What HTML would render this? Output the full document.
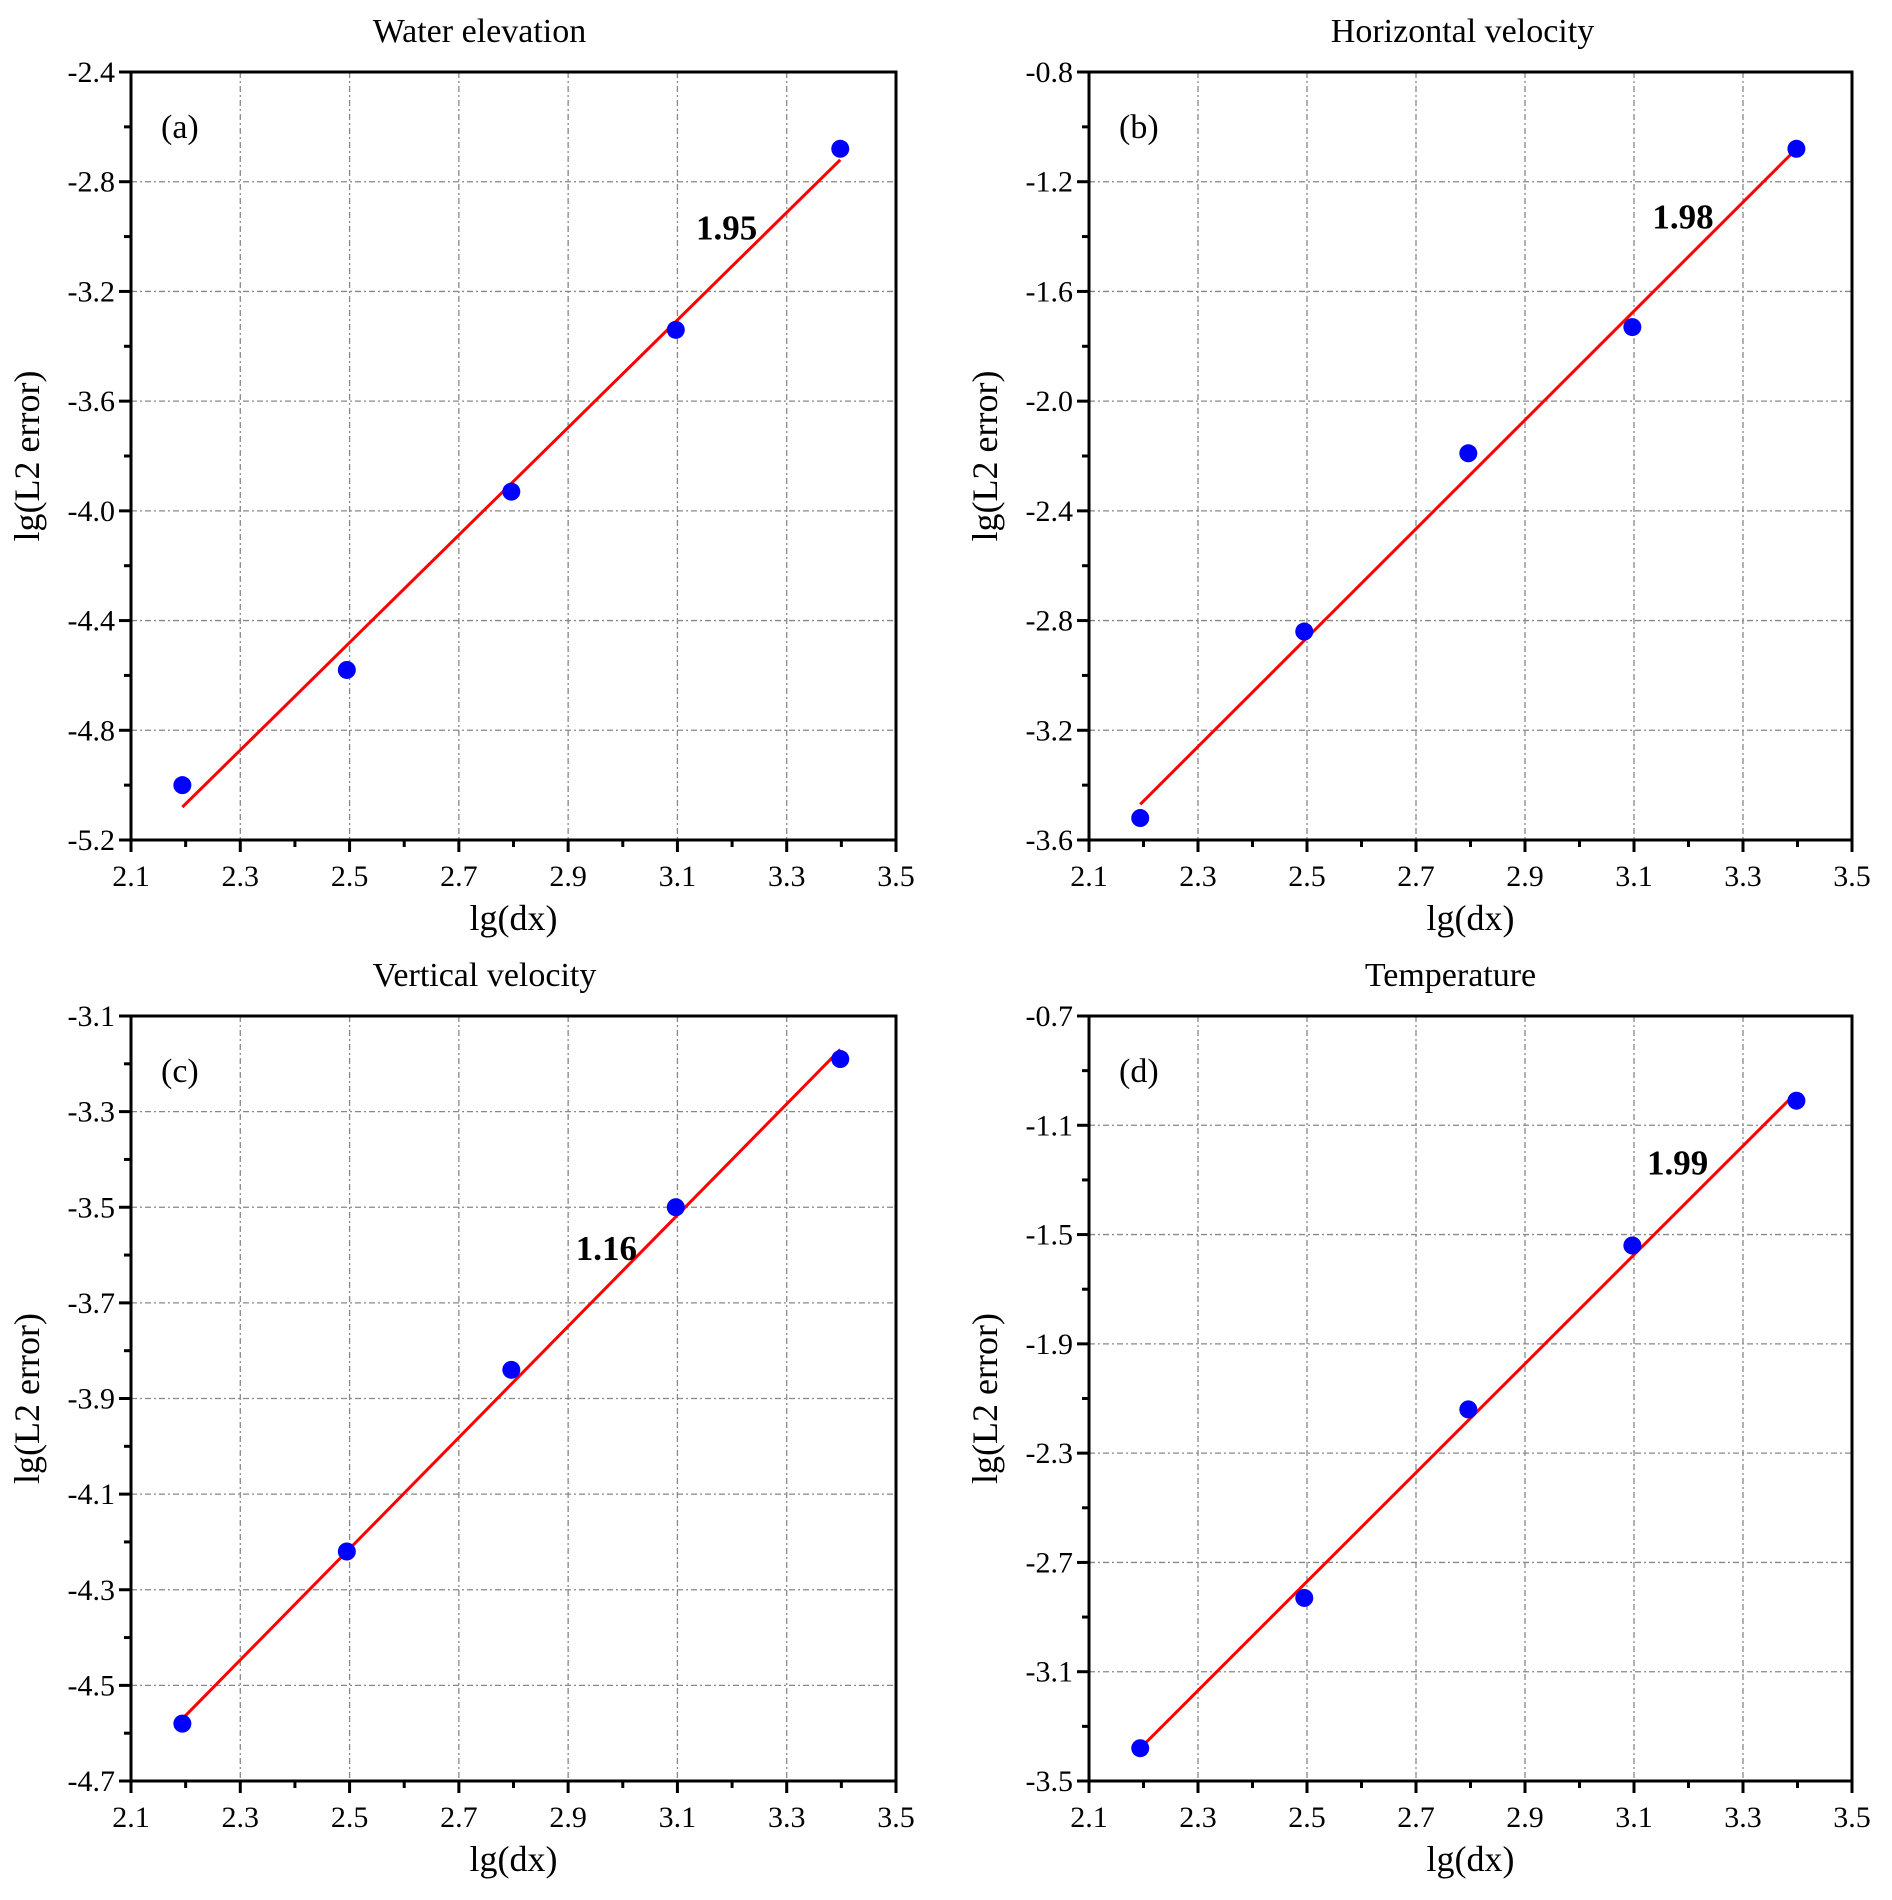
<!DOCTYPE html>
<html><head><meta charset="utf-8"><style>
body{margin:0;background:#fff}
svg{display:block;font-family:"Liberation Serif",serif}
</style></head><body>
<svg id="fig" width="1892" height="1900" viewBox="0 0 1892 1900" xmlns="http://www.w3.org/2000/svg"></svg>
<script>
const xTicks = [2.1, 2.3, 2.5, 2.7, 2.9, 3.1, 3.3, 3.5];
const dxValues = [2.194, 2.495, 2.796, 3.097, 3.398];
const titles = ["Water elevation", "Horizontal velocity", "Vertical velocity", "Temperature"];
const tags = ["(a)", "(b)", "(c)", "(d)"];
const yTicksA = [-5.2, -4.8, -4.4, -4.0, -3.6, -3.2, -2.8, -2.4];
const yTicksB = [-3.6, -3.2, -2.8, -2.4, -2.0, -1.6, -1.2, -0.8];
const yTicksC = [-4.7, -4.5, -4.3, -4.1, -3.9, -3.7, -3.5, -3.3, -3.1];
const yTicksD = [-3.5, -3.1, -2.7, -2.3, -1.9, -1.5, -1.1, -0.7];
const errA = [-5.0, -4.58, -3.93, -3.34, -2.68];
const errB = [-3.52, -2.84, -2.19, -1.73, -1.08];
const errC = [-4.58, -4.22, -3.84, -3.50, -3.19];
const errD = [-3.38, -2.83, -2.14, -1.54, -1.01];
const fitA = [-5.08, -2.72];
const fitB = [-3.47, -1.08];
const fitC = [-4.57, -3.17];
const fitD = [-3.38, -0.98];
const slopeLabels = ["1.95", "1.98", "1.16", "1.99"];
const slopePosX = [3.19, 3.19, 2.97, 3.18];
const slopePosY = [-3.01, -1.37, -3.61, -1.28];

const NS = "http://www.w3.org/2000/svg";
const svg = document.getElementById("fig");
function mk(tag, attrs, parent, text){
  const e = document.createElementNS(NS, tag);
  for (const k in attrs) e.setAttribute(k, attrs[k]);
  if (text !== undefined) e.textContent = text;
  (parent || svg).appendChild(e);
  return e;
}
const panels = [
  {L:131,R:896,T:72,B:840,yt:yTicksA,err:errA,fit:fitA,dec:1,key:"a",toff:-34},
  {L:1089,R:1852,T:72,B:840,yt:yTicksB,err:errB,fit:fitB,dec:1,key:"b",toff:-8},
  {L:131,R:896,T:1016,B:1781,yt:yTicksC,err:errC,fit:fitC,dec:1,key:"c",toff:-29},
  {L:1089,R:1852,T:1016,B:1781,yt:yTicksD,err:errD,fit:fitD,dec:1,key:"d",toff:-20}
];
panels.forEach((p, i) => {
  const g = mk("g", {});
  
  
  const x0 = xTicks[0], x1 = xTicks[xTicks.length-1];
  const y0 = p.yt[0], y1 = p.yt[p.yt.length-1];
  const sx = v => p.L + (v - x0) / (x1 - x0) * (p.R - p.L);
  const sy = v => p.B - (v - y0) / (y1 - y0) * (p.B - p.T);
  xTicks.slice(1, -1).forEach(v => {
    const l = mk("line", {x1:sx(v), x2:sx(v), y1:p.T, y2:p.B, stroke:"#888", "stroke-width":1.3, "stroke-dasharray":"6 3 2 3"}, g);
    
    
  });
  p.yt.slice(1, -1).forEach(v => {
    const l = mk("line", {x1:p.L, x2:p.R, y1:sy(v), y2:sy(v), stroke:"#888", "stroke-width":1.3, "stroke-dasharray":"6 3 2 3"}, g);
    
    
  });
  const fr = mk("rect", {x:p.L, y:p.T, width:p.R-p.L, height:p.B-p.T, fill:"none", stroke:"#000", "stroke-width":3}, g);
  
  
  xTicks.forEach((v, k) => {
    mk("line", {x1:sx(v), x2:sx(v), y1:p.B, y2:p.B+12, stroke:"#000", "stroke-width":3}, g);
    const t = mk("text", {x:sx(v), y:p.B+46, "text-anchor":"middle", "font-size":30}, g, v.toFixed(1));
    
    
    if (k < xTicks.length-1) {
      const m = (v + xTicks[k+1]) / 2;
      mk("line", {x1:sx(m), x2:sx(m), y1:p.B, y2:p.B+7, stroke:"#000", "stroke-width":3}, g);
    }
  });
  p.yt.forEach((v, k) => {
    mk("line", {x1:p.L-12, x2:p.L, y1:sy(v), y2:sy(v), stroke:"#000", "stroke-width":3}, g);
    const t = mk("text", {x:p.L-16, y:sy(v)+10, "text-anchor":"end", "font-size":30}, g, v.toFixed(p.dec));
    
    
    if (k < p.yt.length-1) {
      const m = (v + p.yt[k+1]) / 2;
      mk("line", {x1:p.L-7, x2:p.L, y1:sy(m), y2:sy(m), stroke:"#000", "stroke-width":3}, g);
    }
  });
  const xt = mk("text", {x:(p.L+p.R)/2, y:p.B+90, "text-anchor":"middle", "font-size":36}, g, "lg(dx)");
  
  
  const cy = (p.T+p.B)/2, cx = p.L - 92;
  const yt = mk("text", {x:cx, y:cy, "text-anchor":"middle", "font-size":36, transform:`rotate(-90 ${cx} ${cy})`}, g, "lg(L2 error)");
  
  
  const tt = mk("text", {x:(p.L+p.R)/2 + p.toff, y:p.T-30, "text-anchor":"middle", "font-size":34}, g, titles[i]);
  
  
  const tg = mk("text", {x:p.L+30, y:p.T+66, "font-size":34}, g, tags[i]);
  
  
  const fl = mk("line", {x1:sx(dxValues[0]), y1:sy(p.fit[0]), x2:sx(dxValues[dxValues.length-1]), y2:sy(p.fit[1]), stroke:"#f00", "stroke-width":3}, g);
  
  
  p.err.forEach((v, k) => {
    const c = mk("circle", {cx:sx(dxValues[k]), cy:sy(v), r:9, fill:"#0000ff"}, g);
    
    
  });
  const sl = mk("text", {x:sx(slopePosX[i]), y:sy(slopePosY[i]), "text-anchor":"middle", "font-size":35, "font-weight":"bold"}, g, slopeLabels[i]);
  
  
});
</script>
</body></html>
